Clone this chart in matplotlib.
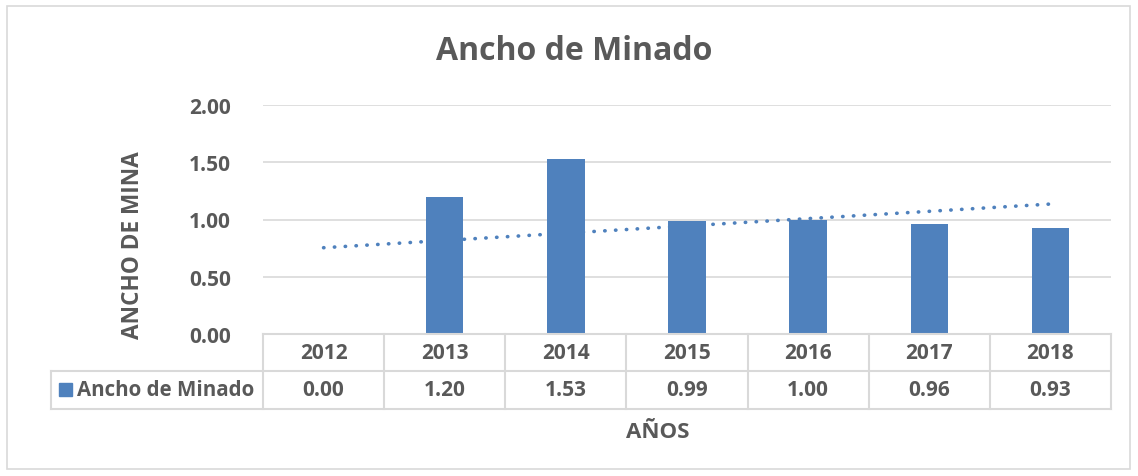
import numpy as np
import matplotlib.pyplot as plt
from matplotlib.lines import Line2D
from matplotlib.patches import Rectangle
from matplotlib.transforms import blended_transform_factory

years = ['2012', '2013', '2014', '2015', '2016', '2017', '2018']
ancho = [0.00, 1.20, 1.53, 0.99, 1.00, 0.96, 0.93]
serie = 'Ancho de Minado'
y_ticks = [0.0, 0.5, 1.0, 1.5, 2.0]

blue = '#4F81BD'
grey_text = '#595959'
grid_c = '#D9D9D9'

plt.rcParams['font.family'] = ['Open Sans', 'DejaVu Sans']
plt.rcParams['font.weight'] = 'bold'

W, H = 1138, 477
fig = plt.figure(figsize=(W / 100, H / 100), dpi=100)

def fy(py):
    return 1 - py / H

def fx(px):
    return px / W

# outer chart border
fig.patches.append(Rectangle((fx(7), fy(470)), fx(1123), 463 / H, transform=fig.transFigure,
                             fill=False, edgecolor='#D9D9D9', lw=1.2))

ax = fig.add_axes([fx(263), fy(335), fx(1111 - 263), (335 - 106) / H])
x = np.arange(len(years))
ax.bar(x, ancho, width=0.31, color=blue, zorder=3)

# linear trendline
k, b = np.polyfit(x, ancho, 1)
ax.plot(x, k * x + b, color=blue, lw=2.6, linestyle=(0, (0.1, 2.9)),
        dash_capstyle='round', zorder=2)

ax.set_xlim(-0.5, len(years) - 0.5)
ax.set_ylim(0, 2.0)
ax.set_yticks(y_ticks)
ax.set_yticklabels(['%.2f' % v for v in y_ticks], fontsize=15, color=grey_text, fontweight='bold')
ax.tick_params(axis='y', length=0, pad=23)
ax.set_xticks([])
ax.grid(axis='y', color=grid_c, lw=1.2, zorder=0)
for s in ax.spines.values():
    s.set_visible(False)

# data table
tr = blended_transform_factory(ax.transData, fig.transFigure)
row_top, row_mid, row_bot = fy(335), fy(372), fy(410)
lc = dict(color=grid_c, lw=1.5)
fig.add_artist(Line2D([-0.5, len(years) - 0.5], [row_top, row_top], transform=tr, **lc))
fig.add_artist(Line2D([fx(51), fx(1111)], [row_mid, row_mid], transform=fig.transFigure, **lc))
fig.add_artist(Line2D([fx(51), fx(1111)], [row_bot, row_bot], transform=fig.transFigure, **lc))
fig.add_artist(Line2D([fx(51), fx(51)], [row_mid, row_bot], transform=fig.transFigure, **lc))
for i in range(len(years) + 1):
    fig.add_artist(Line2D([i - 0.5, i - 0.5], [row_top, row_bot], transform=tr, **lc))
for i, (yr, v) in enumerate(zip(years, ancho)):
    fig.text(i, (row_top + row_mid) / 2, yr, transform=tr, ha='center', va='center',
             fontsize=15, color=grey_text, fontweight='bold')
    fig.text(i, (row_mid + row_bot) / 2, '%.2f' % v, transform=tr, ha='center', va='center',
             fontsize=15, color=grey_text, fontweight='bold')
fig.patches.append(Rectangle((fx(59), fy(397)), fx(13), 13 / H, transform=fig.transFigure,
                             color=blue))
fig.text(fx(77), (row_mid + row_bot) / 2, serie, ha='left', va='center',
         fontsize=14.8, color=grey_text, fontweight='bold')

fig.text(fx(574), fy(52), 'Ancho de Minado', ha='center', va='center',
         fontsize=23, color=grey_text, fontweight='bold')
fig.text(fx(133), fy(245), 'ANCHO DE MINA', ha='center', va='center', rotation=90,
         fontsize=16.3, color=grey_text, fontweight='bold')
fig.text(fx(658), fy(433), 'AÑOS', ha='center', va='center',
         fontsize=16, color=grey_text, fontweight='bold')

fig.savefig('out.png', dpi=100)
